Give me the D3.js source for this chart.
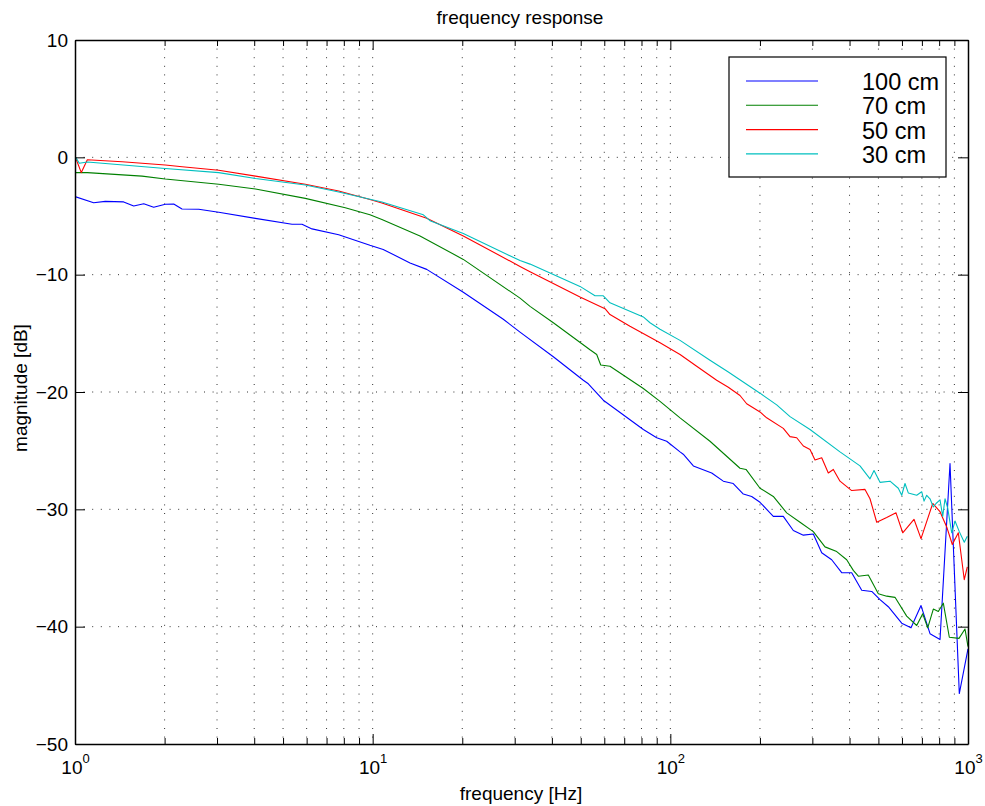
<!DOCTYPE html>
<html>
<head>
<meta charset="utf-8">
<title>frequency response</title>
<script src="https://cdn.jsdelivr.net/npm/d3@7"></script>
<style>
	body { margin: 0; background: #fff; }
	svg { display: block; font-family: "Liberation Sans", Arial, Helvetica, sans-serif; }
	.grid line { stroke: #333; stroke-width: 1; stroke-dasharray: 1, 7.6; }
	.axis path, .axis line { stroke: #000; }
	.axis text { fill: #000; font-family: inherit; }
	.series { fill: none; stroke-width: 1.1; stroke-linejoin: round; }
</style>
</head>
<body>
<svg id="chart" width="985" height="806"></svg>
<script>
'use strict';

// [frequency Hz, magnitude dB]
var cm100 = [
	[1.00, -3.35], [1.155, -3.87], [1.264, -3.75], [1.457, -3.8], [1.575, -4.15], [1.702, -3.95],
	[1.838, -4.26], [2.011, -4.0], [2.146, -3.98], [2.288, -4.4], [2.604, -4.43], [3.04, -4.68],
	[4.035, -5.2], [5.358, -5.7], [5.789, -5.7], [6.255, -6.1], [7.689, -6.6], [9.79, -7.5],
	[10.85, -7.85], [13.35, -9.0], [15.19, -9.55], [20.16, -11.5], [27.47, -13.8], [31.26, -14.9],
	[40.45, -17.0], [51.01, -19.0], [53.02, -19.3], [59.54, -20.7], [81.15, -23.2], [90.0, -23.9],
	[97.22, -24.2], [107.8, -25.1], [110.5, -25.3], [119.5, -26.3], [137.7, -26.9], [150.6, -27.6],
	[162.7, -27.8], [175.9, -28.7], [187.6, -28.9], [200.1, -29.4], [221.8, -30.6], [239.6, -30.6],
	[258.9, -31.8], [279.8, -32.2], [302.2, -32.1], [322.5, -33.7], [348.4, -34.3], [376.4, -35.4],
	[406.7, -35.4], [439.5, -36.9], [474.9, -37.0], [506.3, -37.7], [539.9, -38.3], [598.8, -39.7],
	[643.5, -40.1], [695.3, -38.2], [745.4, -40.6], [805.4, -41.1], [870.1, -26.1], [934.9, -45.7],
	[1000, -41.9]
];

var cm70 = [
	[1.00, -1.3], [1.10, -1.3], [1.68, -1.6], [2.01, -1.85], [3.04, -2.3], [4.04, -2.7],
	[5.94, -3.5], [8.09, -4.3], [9.79, -4.9], [10.74, -5.3], [14.42, -6.7], [20.16, -8.7],
	[31.26, -12.0], [33.78, -12.7], [40.45, -14.1], [53.72, -16.4], [56.58, -16.8], [58.36, -17.7],
	[62.70, -17.8], [81.15, -19.7], [92.33, -20.8], [107.8, -22.2], [135.9, -24.2], [171.4, -26.5],
	[179.6, -26.6], [200.1, -28.2], [221.8, -28.9], [246.0, -30.3], [272.7, -31.1], [302.2, -31.9],
	[330.8, -33.2], [362.2, -33.6], [391.3, -34.3], [411.8, -35.2], [428.0, -35.7], [462.5, -35.6],
	[499.7, -37.2], [533.2, -37.4], [568.5, -37.5], [622.3, -39.1], [672.5, -39.9], [704.4, -38.9],
	[732.3, -40.1], [764.7, -38.5], [794.9, -38.7], [826.2, -38.0], [865.5, -40.9], [932.7, -41.0],
	[977.0, -40.2], [1000, -41.7]
];

var cm50 = [
	[1.00, 0.1], [1.05, -1.3], [1.10, -0.2], [1.44, -0.37], [2.01, -0.65], [2.29, -0.8],
	[3.04, -1.1], [4.04, -1.6], [5.94, -2.3], [7.69, -2.87], [9.79, -3.6], [10.74, -3.9],
	[15.19, -5.2], [20.16, -6.7], [31.26, -9.3], [33.78, -9.75], [49.72, -11.9], [60.33, -12.9],
	[62.70, -13.4], [73.18, -14.4], [92.33, -15.8], [107.8, -16.8], [122.6, -17.8], [143.1, -19.0],
	[156.6, -19.6], [171.4, -20.3], [180.5, -21.0], [200.1, -21.7], [210.7, -22.2], [239.6, -23.1],
	[252.4, -23.8], [265.8, -23.9], [279.8, -24.6], [294.6, -24.9], [306.2, -25.8], [322.5, -25.6],
	[339.4, -26.9], [352.8, -26.6], [371.5, -27.6], [406.7, -28.4], [450.8, -28.3], [468.6, -29.1],
	[493.6, -31.1], [533.2, -30.7], [573.0, -30.3], [603.5, -32.0], [658.5, -30.85], [695.3, -32.5],
	[761.2, -29.5], [805.4, -30.2], [848.2, -31.5], [885.7, -33.0], [927.8, -32.0], [971.6, -36.0],
	[994.6, -34.9]
];

var cm30 = [
	[1.00, 0.1], [1.034, -0.5], [1.10, -0.4], [2.01, -0.95], [3.04, -1.3], [4.04, -1.8],
	[5.94, -2.36], [7.69, -2.95], [10.74, -3.8], [14.80, -4.9], [15.58, -5.4], [20.16, -6.5],
	[31.26, -8.8], [33.78, -9.1], [49.72, -11.0], [55.84, -11.8], [59.54, -11.8], [62.70, -12.4],
	[81.15, -13.6], [85.45, -14.1], [92.33, -14.65], [107.8, -15.6], [135.9, -17.3], [156.6, -18.3],
	[200.1, -20.1], [227.7, -21.1], [252.4, -22.1], [294.6, -23.2], [371.5, -25.1], [433.7, -26.3],
	[468.6, -27.4], [483.4, -26.7], [506.3, -27.7], [547.0, -27.6], [583.3, -28.2], [598.8, -28.8],
	[614.3, -27.8], [630.1, -28.6], [672.5, -28.8], [699.0, -28.5], [711.7, -29.3], [726.6, -28.8],
	[745.4, -29.1], [764.7, -29.8], [780.9, -29.5], [805.4, -29.2], [822.4, -30.6], [837.1, -29.1],
	[854.8, -29.9], [881.6, -32.0], [904.4, -31.0], [934.9, -31.9], [971.6, -32.8], [994.6, -32.3]
];

var seriesNames = ['100 cm', '70 cm', '50 cm', '30 cm'];
var seriesColors = ['#0000ff', '#008000', '#ff0000', '#00bfbf'];
var seriesData = [cm100, cm70, cm50, cm30];

var yTicks = [-50, -40, -30, -20, -10, 0, 10];
var xMajor = [1, 10, 100, 1000];
var xMinor = [];
[1, 10, 100].forEach(function(decade) {
	for (var k = 2; k <= 9; k++) {
		xMinor.push(k * decade);
	}
});

var box = { left: 75, right: 968, top: 40, bottom: 744 };

var svg = d3.select('#chart');

var x = d3.scaleLog().domain([1, 1000]).range([box.left, box.right]);
var y = d3.scaleLinear().domain([-50, 10]).range([box.bottom, box.top]);

svg.append('defs')
	.append('clipPath')
	.attr('id', 'plot-clip')
	.append('rect')
	.attr('x', box.left)
	.attr('y', box.top)
	.attr('width', box.right - box.left)
	.attr('height', box.bottom - box.top);

/* grid: every x tick, major y ticks only */
var grid = svg.append('g').classed('grid', true);

grid.selectAll('line.gx')
	.data(xMinor.concat([10, 100]))
	.enter()
	.append('line')
	.attr('class', 'gx')
	.attr('x1', function(d) { return x(d); })
	.attr('x2', function(d) { return x(d); })
	.attr('y1', box.top)
	.attr('y2', box.bottom);

grid.selectAll('line.gy')
	.data(yTicks.slice(1, -1))
	.enter()
	.append('line')
	.attr('class', 'gy')
	.attr('x1', box.left)
	.attr('x2', box.right)
	.attr('y1', function(d) { return y(d); })
	.attr('y2', function(d) { return y(d); });

/* curves */
var line = d3.line()
	.x(function(d) { return x(d[0]); })
	.y(function(d) { return y(d[1]); });

svg.append('g')
	.attr('clip-path', 'url(#plot-clip)')
	.selectAll('path')
	.data(seriesData)
	.enter()
	.append('path')
	.classed('series', true)
	.attr('stroke', function(d, i) { return seriesColors[i]; })
	.attr('d', line);

/* axes, ticks point inward on all four sides */
var axisLeft = svg.append('g')
	.classed('axis', true)
	.attr('transform', 'translate(' + box.left + ',0)')
	.call(d3.axisLeft(y)
		.tickValues(yTicks)
		.tickSize(-10)
		.tickSizeOuter(0)
		.tickPadding(7)
		.tickFormat(function(d) { return d < 0 ? '\u2212' + Math.abs(d) : d; }));
axisLeft.selectAll('text').attr('font-size', 19);

svg.append('g')
	.classed('axis', true)
	.attr('transform', 'translate(' + box.right + ',0)')
	.call(d3.axisRight(y).tickValues(yTicks).tickSize(-10).tickSizeOuter(0).tickFormat(''));

var axisBottom = svg.append('g')
	.classed('axis', true)
	.attr('transform', 'translate(0,' + box.bottom + ')')
	.call(d3.axisBottom(x).tickValues(xMajor).tickSize(-10).tickSizeOuter(0).tickFormat(''));

axisBottom.selectAll('.tick text').each(function(d) {
	var t = d3.select(this)
		.attr('y', 30)
		.attr('dy', 0)
		.attr('font-size', 19);
	t.append('tspan').text('10');
	t.append('tspan')
		.attr('dy', -11)
		.attr('font-size', 13)
		.text(Math.round(Math.log10(d)));
});

svg.append('g')
	.classed('axis', true)
	.attr('transform', 'translate(0,' + box.bottom + ')')
	.call(d3.axisBottom(x).tickValues(xMinor).tickSize(-6).tickSizeOuter(0).tickFormat(''))
	.select('.domain').remove();

svg.append('g')
	.classed('axis', true)
	.attr('transform', 'translate(0,' + box.top + ')')
	.call(d3.axisTop(x).tickValues(xMajor).tickSize(-10).tickSizeOuter(0).tickFormat(''));

svg.append('g')
	.classed('axis', true)
	.attr('transform', 'translate(0,' + box.top + ')')
	.call(d3.axisTop(x).tickValues(xMinor).tickSize(-6).tickSizeOuter(0).tickFormat(''))
	.select('.domain').remove();

svg.selectAll('.axis .domain').attr('stroke-width', 1.5);

/* titles */
svg.append('text')
	.attr('x', 520)
	.attr('y', 24)
	.attr('text-anchor', 'middle')
	.attr('font-size', 19)
	.text('frequency response');

svg.append('text')
	.attr('x', 521)
	.attr('y', 800)
	.attr('text-anchor', 'middle')
	.attr('font-size', 19)
	.text('frequency [Hz]');

svg.append('text')
	.attr('transform', 'translate(27,388) rotate(-90)')
	.attr('text-anchor', 'middle')
	.attr('font-size', 19)
	.text('magnitude [dB]');

/* legend */
var legend = svg.append('g').attr('transform', 'translate(729,57)');

legend.append('rect')
	.attr('width', 217)
	.attr('height', 120)
	.attr('fill', '#fff')
	.attr('stroke', '#000')
	.attr('stroke-width', 1.2);

var entry = legend.selectAll('g.entry')
	.data(seriesNames)
	.enter()
	.append('g')
	.attr('class', 'entry')
	.attr('transform', function(d, i) { return 'translate(0,' + (24 + i * 24.3) + ')'; });

entry.append('line')
	.attr('x1', 17)
	.attr('x2', 89)
	.attr('stroke', function(d, i) { return seriesColors[i]; })
	.attr('stroke-width', 1.1);

entry.append('text')
	.attr('x', 133)
	.attr('y', 9)
	.attr('font-size', 23.5)
	.text(function(d) { return d; });
</script>
</body>
</html>
